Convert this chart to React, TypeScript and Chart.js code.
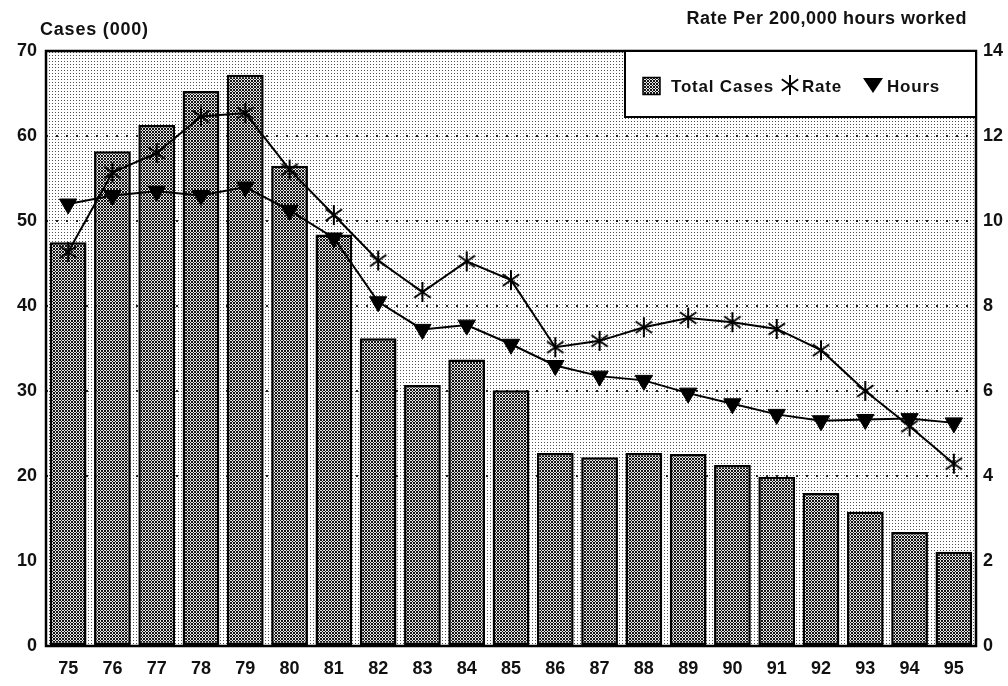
import React, { useEffect, useRef } from "react";
import { Chart, registerables } from "chart.js";

Chart.register(...registerables);

const years = ["75", "76", "77", "78", "79", "80", "81", "82", "83", "84", "85", "86", "87", "88", "89", "90", "91", "92", "93", "94", "95"];
const totalCases = [47.5, 58.2, 61.3, 65.3, 67.2, 56.5, 48.4, 36.2, 30.7, 33.7, 30.1, 22.7, 22.2, 22.7, 22.6, 21.3, 19.9, 18.0, 15.8, 13.4, 11.1];
const rate = [9.27, 11.14, 11.6, 12.46, 12.54, 11.21, 10.14, 9.07, 8.33, 9.05, 8.61, 7.03, 7.18, 7.5, 7.72, 7.62, 7.46, 6.96, 6.0, 5.17, 4.29];
const hours = [10.4, 10.6, 10.7, 10.6, 10.8, 10.25, 9.6, 8.1, 7.45, 7.55, 7.1, 6.6, 6.35, 6.25, 5.95, 5.7, 5.45, 5.3, 5.33, 5.35, 5.25];

const leftTitle = "Cases (000)";
const rightTitle = "Rate Per 200,000 hours worked";
const legendLabels = ["Total Cases", "Rate", "Hours"];

const FONT = "'Liberation Sans', Arial, sans-serif";

function makeBgPattern(): CanvasPattern | string {
  const c = document.createElement("canvas");
  c.width = 3;
  c.height = 3;
  const g = c.getContext("2d")!;
  g.fillStyle = "#ffffff";
  g.fillRect(0, 0, 3, 3);
  g.fillStyle = "#505050";
  g.fillRect(1, 1, 1, 1);
  const p = g.createPattern(c, "repeat");
  return p || "#eee";
}

function makeBarPattern(): CanvasPattern | string {
  const c = document.createElement("canvas");
  c.width = 3;
  c.height = 3;
  const g = c.getContext("2d")!;
  g.fillStyle = "#e6e6e6";
  g.fillRect(0, 0, 3, 3);
  g.fillStyle = "#151515";
  g.fillRect(0, 0, 1, 1);
  g.fillRect(2, 0, 1, 1);
  g.fillRect(1, 1, 1, 1);
  g.fillRect(0, 2, 1, 1);
  g.fillRect(2, 2, 1, 1);
  const p = g.createPattern(c, "repeat");
  return p || "#888";
}

function drawAsterisk(g: CanvasRenderingContext2D, x: number, y: number, r: number) {
  g.save();
  g.strokeStyle = "#000";
  g.lineWidth = 2;
  g.beginPath();
  g.moveTo(x, y - r);
  g.lineTo(x, y + r);
  const a = (35 * Math.PI) / 180;
  g.moveTo(x - r * Math.cos(a), y - r * Math.sin(a));
  g.lineTo(x + r * Math.cos(a), y + r * Math.sin(a));
  g.moveTo(x - r * Math.cos(a), y + r * Math.sin(a));
  g.lineTo(x + r * Math.cos(a), y - r * Math.sin(a));
  g.stroke();
  g.restore();
}

function makeAsteriskImage(): HTMLCanvasElement {
  const c = document.createElement("canvas");
  c.width = 24;
  c.height = 24;
  const g = c.getContext("2d")!;
  drawAsterisk(g, 12, 12, 10);
  return c;
}

export default function App() {
  const ref = useRef<HTMLCanvasElement | null>(null);

  useEffect(() => {
    document.body.style.margin = "0";
    const canvas = ref.current!;
    const bgPattern = makeBgPattern();
    const barPattern = makeBarPattern();
    const asterisk = makeAsteriskImage();

    const framePlugin = {
      id: "frameBg",
      beforeDraw(chart: any) {
        const { ctx, chartArea: a } = chart;
        ctx.save();
        ctx.fillStyle = bgPattern;
        ctx.fillRect(a.left, a.top, a.right - a.left, a.bottom - a.top);
        ctx.restore();
      },
      afterDraw(chart: any) {
        const { ctx, chartArea: a } = chart;
        ctx.save();
        ctx.strokeStyle = "#000";
        ctx.lineWidth = 2.5;
        ctx.strokeRect(a.left, a.top, a.right - a.left, a.bottom - a.top);

        // axis titles
        ctx.fillStyle = "#111";
        ctx.font = `bold 18px ${FONT}`;
        (ctx as any).letterSpacing = "0.8px";
        ctx.textBaseline = "alphabetic";
        ctx.textAlign = "left";
        ctx.fillText(leftTitle, 40, 35);
        (ctx as any).letterSpacing = "0.5px";
        ctx.textAlign = "right";
        ctx.fillText(rightTitle, 967, 24);

        // legend box
        const lx = 625;
        const ly = a.top;
        const lw = a.right - lx;
        const lh = 117 - a.top;
        ctx.fillStyle = "#fff";
        ctx.fillRect(lx, ly, lw, lh);
        ctx.lineWidth = 2;
        ctx.strokeStyle = "#000";
        ctx.strokeRect(lx, ly, lw, lh);

        const cy = 86;
        // swatch
        ctx.fillStyle = barPattern;
        ctx.fillRect(643, cy - 8.5, 17, 17);
        ctx.lineWidth = 1.5;
        ctx.strokeRect(643, cy - 8.5, 17, 17);

        ctx.fillStyle = "#111";
        ctx.font = `bold 17px ${FONT}`;
        (ctx as any).letterSpacing = "0.8px";
        ctx.textAlign = "left";
        ctx.textBaseline = "middle";
        ctx.fillText(legendLabels[0], 671, cy + 1);

        drawAsterisk(ctx, 790, cy - 1, 10);
        ctx.fillText(legendLabels[1], 802, cy + 1);

        // triangle
        ctx.beginPath();
        ctx.fillStyle = "#000";
        ctx.moveTo(863, cy - 8);
        ctx.lineTo(883, cy - 8);
        ctx.lineTo(873, cy + 7);
        ctx.closePath();
        ctx.fill();
        ctx.fillStyle = "#111";
        ctx.fillText(legendLabels[2], 887, cy + 1);
        (ctx as any).letterSpacing = "0px";
        ctx.restore();
      },
    };

    const tickFont = { family: FONT, size: 18, weight: "bold" as const };

    const chart = new Chart(canvas, {
      type: "bar",
      data: {
        labels: years,
        datasets: [
          {
            type: "line",
            label: legendLabels[2],
            data: hours,
            yAxisID: "y1",
            borderColor: "#000",
            borderWidth: 2,
            pointStyle: "triangle",
            rotation: 180,
            pointRadius: 10,
            pointBackgroundColor: "#000",
            pointBorderColor: "#000",
            pointBorderWidth: 1,
            tension: 0,
            order: 1,
          } as any,
          {
            type: "line",
            label: legendLabels[1],
            data: rate,
            yAxisID: "y1",
            borderColor: "#000",
            borderWidth: 2,
            pointStyle: asterisk,
            pointRadius: 10,
            tension: 0,
            order: 2,
          } as any,
          {
            type: "bar",
            label: legendLabels[0],
            data: totalCases,
            yAxisID: "y",
            backgroundColor: barPattern as any,
            borderColor: "#000",
            borderWidth: 2.5,
            borderSkipped: false,
            barPercentage: 0.83,
            categoryPercentage: 1,
            order: 3,
          },
        ],
      },
      options: {
        animation: false,
        responsive: false,
        devicePixelRatio: 1,
        layout: { padding: { top: 51, left: 0, right: 0, bottom: 0 } },
        plugins: {
          legend: { display: false },
          tooltip: { enabled: false },
        },
        scales: {
          x: {
            grid: { display: false, drawTicks: false },
            border: { display: false },
            ticks: { font: tickFont, color: "#111", padding: 12, maxRotation: 0, autoSkip: false },
            afterFit: (s: any) => {
              s.height = 40;
            },
          },
          y: {
            position: "left",
            min: 0,
            max: 70,
            ticks: { stepSize: 10, font: tickFont, color: "#111", padding: 9 },
            grid: {
              drawTicks: false,
              lineWidth: 2,
              color: (c: any) => {
                const v = c.tick && c.tick.value;
                return v >= 20 && v <= 60 ? "#222" : "rgba(0,0,0,0)";
              },
            },
            border: { display: false, dash: [2, 8] },
            afterFit: (s: any) => {
              s.width = 46;
            },
          },
          y1: {
            position: "right",
            min: 0,
            max: 14,
            ticks: { stepSize: 2, font: tickFont, color: "#111", padding: 7 },
            grid: { display: false, drawTicks: false },
            border: { display: false },
            afterFit: (s: any) => {
              s.width = 32;
            },
          },
        },
      } as any,
      plugins: [framePlugin],
    });

    return () => chart.destroy();
  }, []);

  return (
    <div style={{ position: "fixed", left: 0, top: 0, width: 1008, height: 686, background: "#fff" }}>
      <canvas ref={ref} width={1008} height={686} style={{ display: "block" }} />
    </div>
  );
}
